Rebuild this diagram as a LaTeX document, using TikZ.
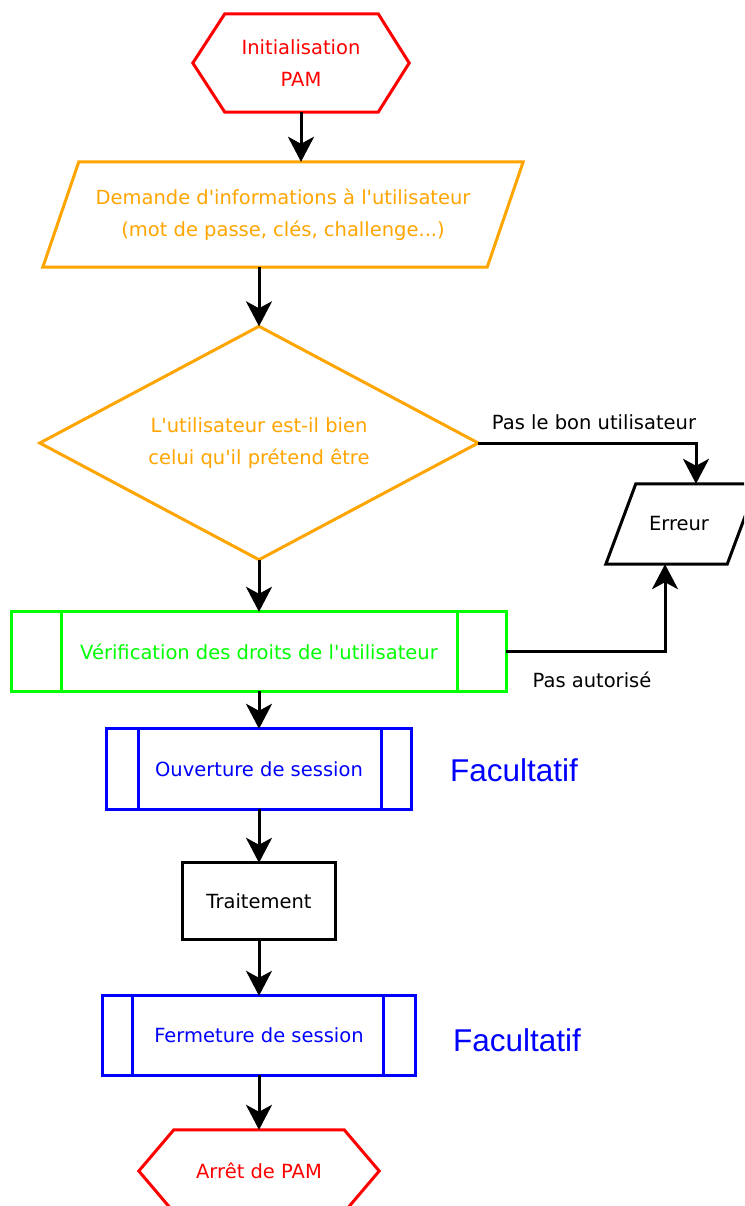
\documentclass[tikz,border=0pt]{standalone}
\usepackage{fontspec}
\setmainfont{DejaVu Sans}[Ligatures=TeXOff]
\newfontfamily\facfont{Liberation Sans}
\usetikzlibrary{calc,arrows.meta}
\definecolor{pamred}{RGB}{255,0,0}
\definecolor{pamorange}{RGB}{255,165,0}
\definecolor{pamgreen}{RGB}{0,255,0}
\definecolor{pamblue}{RGB}{0,0,255}
\tikzset{
  box/.style={draw=none, rectangle, inner sep=0pt, align=center,
    font=\fontsize{19.5}{32}\selectfont},
  outline/.style={line width=3pt, line join=miter},
  conn/.style={line width=3pt, draw=black, -{Stealth[length=25pt, width=26pt, inset=7pt]}},
  lbl/.style={inner sep=0pt, font=\fontsize{19.5}{24}\selectfont, text=black},
  fac/.style={inner sep=0pt, font=\facfont\fontsize{31.5}{36}\selectfont, text=pamblue}
}
\begin{document}
\begin{tikzpicture}[x=1pt, y=-1pt]
\useasboundingbox (0,0) rectangle (744,1206);
\fill[white] (0,0) rectangle (744,1206);
\clip (0,0) rectangle (744,1206);

% nodes
\node[box, text=pamred, minimum width=216pt, minimum height=98pt] (init) at (301,63) {Initialisation\\PAM};
\node[box, text=pamorange, minimum width=480pt, minimum height=105pt] (demande) at (283,214.5)
  {Demande d'informations à l'utilisateur\\(mot de passe, clés, challenge...)};
\node[box, text=pamorange, minimum width=438pt, minimum height=233pt] (quest) at (259,443)
  {L'utilisateur est-il bien\\celui qu'il prétend être};
\node[box, text=black, minimum width=151pt, minimum height=80pt] (erreur) at (681.5,524) {\hspace*{-5pt}Erreur};
\node[box, text=pamgreen, minimum width=494pt, minimum height=79pt] (verif) at (259,651.5)
  {Vérification des droits de l'utilisateur};
\node[box, text=pamblue, minimum width=305pt, minimum height=80pt] (ouv) at (259,769)
  {Ouverture de session};
\node[box, text=black, minimum width=152pt, minimum height=76pt] (trait) at (259,901)
  {Traitement};
\node[box, text=pamblue, minimum width=313pt, minimum height=79pt] (ferm) at (259,1035.5)
  {Fermeture de session};
\node[box, text=pamred, minimum width=240pt, minimum height=82pt] (arret) at (259,1171)
  {Arrêt de PAM};

\node[fac] (fac1) at (514,770) {Facultatif};
\node[fac] (fac2) at (517,1040) {Facultatif};

% outlines
\draw[outline, pamred] (init.west) -- ($(init.north west)+(32,0)$) -- ($(init.north east)-(31,0)$)
  -- (init.east) -- ($(init.south east)-(31,0)$) -- ($(init.south west)+(32,0)$) -- cycle;
\draw[outline, pamorange] (demande.south west) -- ($(demande.north west)+(36,0)$)
  -- (demande.north east) -- ($(demande.south east)-(36,0)$) -- cycle;
\draw[outline, pamorange] (quest.north) -- (quest.east) -- (quest.south) -- (quest.west) -- cycle;
\draw[outline, black] (erreur.south west) -- ($(erreur.north west)+(30,0)$)
  -- (erreur.north east) -- ($(erreur.south east)-(30,0)$) -- cycle;
\draw[outline, pamgreen] (verif.south west) rectangle (verif.north east);
\draw[outline, pamgreen] ($(verif.south west)+(50,0)$) -- ($(verif.north west)+(50,0)$);
\draw[outline, pamgreen] ($(verif.south east)-(49,0)$) -- ($(verif.north east)-(49,0)$);
\draw[outline, pamblue] (ouv.south west) rectangle (ouv.north east);
\draw[outline, pamblue] ($(ouv.south west)+(32,0)$) -- ($(ouv.north west)+(32,0)$);
\draw[outline, pamblue] ($(ouv.south east)-(30,0)$) -- ($(ouv.north east)-(30,0)$);
\draw[outline, black] (trait.south west) rectangle (trait.north east);
\draw[outline, pamblue] (ferm.south west) rectangle (ferm.north east);
\draw[outline, pamblue] ($(ferm.south west)+(30,0)$) -- ($(ferm.north west)+(30,0)$);
\draw[outline, pamblue] ($(ferm.south east)-(32,0)$) -- ($(ferm.north east)-(32,0)$);
\draw[outline, pamred] (arret.west) -- ($(arret.north west)+(35,0)$) -- ($(arret.north east)-(35,0)$)
  -- (arret.east) -- ($(arret.south east)-(35,0)$) -- ($(arret.south west)+(35,0)$) -- cycle;

% connectors
\draw[conn] (init.south) -- (init.south |- demande.north);
\draw[conn] (quest.north |- demande.south) -- (quest.north);
\draw[conn] (quest.south) -- (verif.north);
\draw[conn] (verif.south) -- (ouv.north);
\draw[conn] (ouv.south) -- (trait.north);
\draw[conn] (trait.south) -- (ferm.north);
\draw[conn] (ferm.south) -- (arret.north);
\draw[conn] (quest.east) -| ([xshift=14.5pt]erreur.north);
\draw[conn] (verif.east) -| ([xshift=-16.5pt]erreur.south);

% labels
\node[lbl] (lblA) at (594,422) {Pas le bon utilisateur};
\node[lbl] (lblB) at (592,680) {Pas autorisé};
\end{tikzpicture}
\end{document}
